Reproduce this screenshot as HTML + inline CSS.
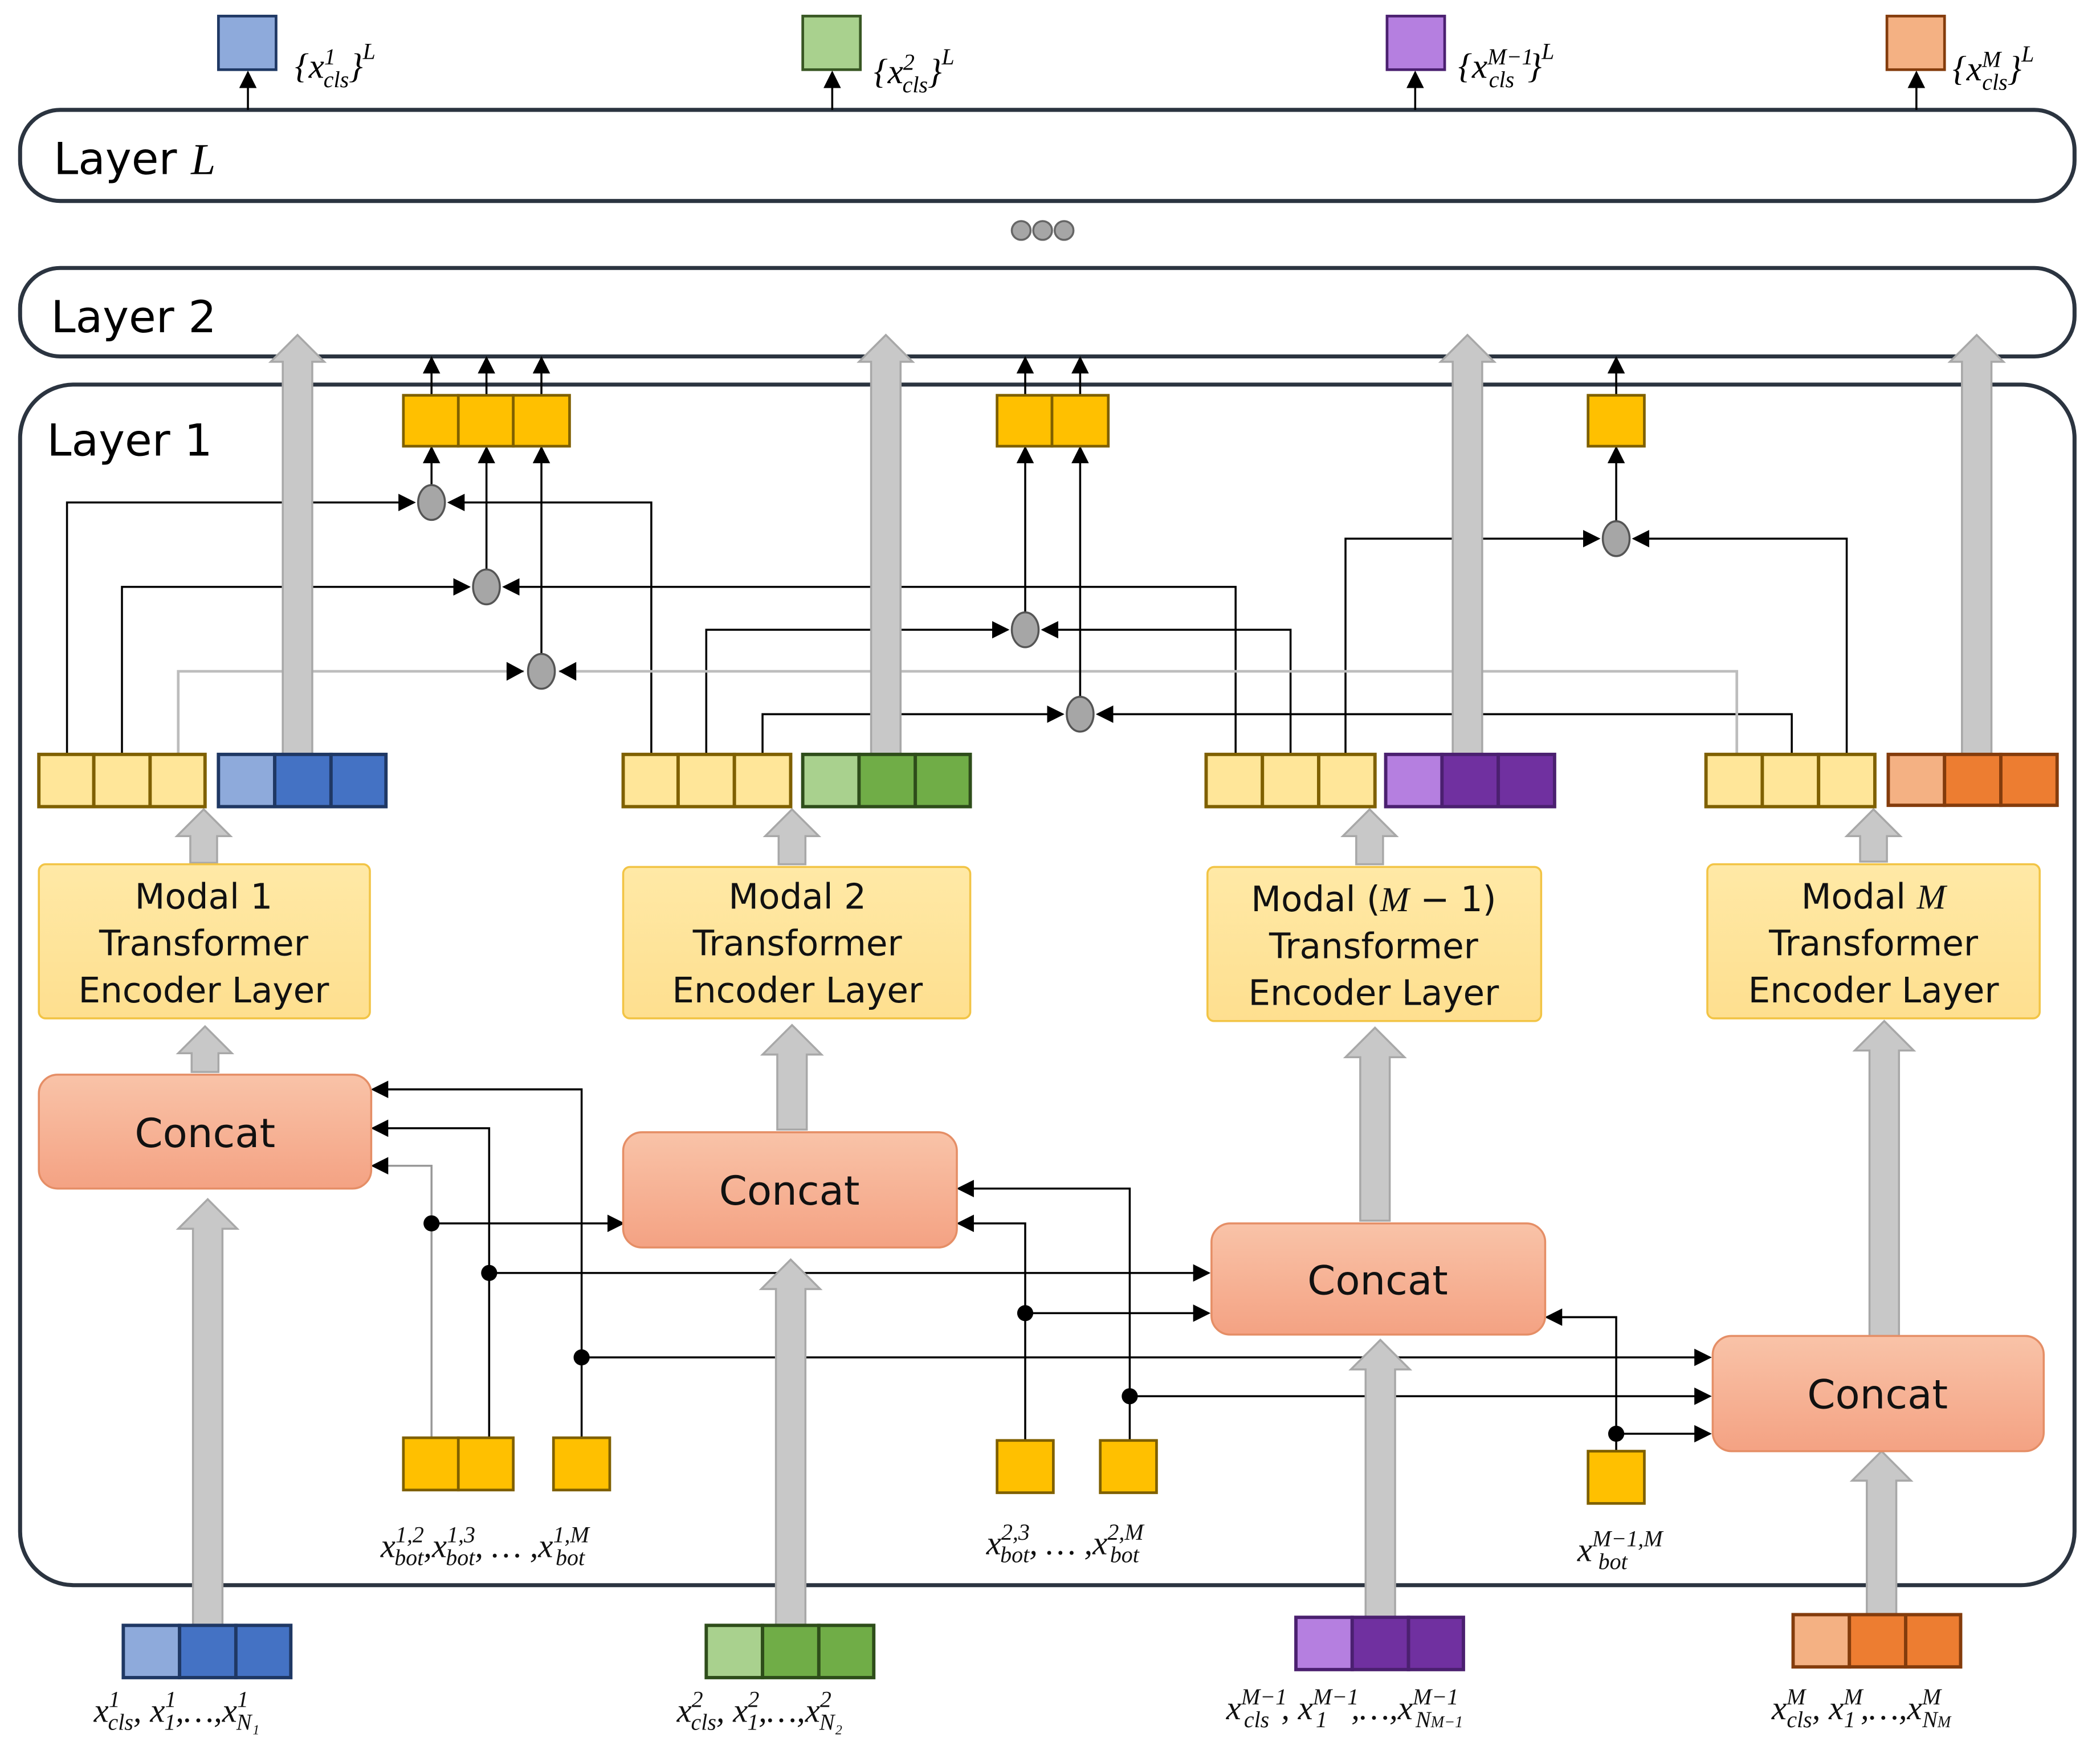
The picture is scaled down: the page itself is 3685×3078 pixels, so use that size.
<!DOCTYPE html>
<html><head><meta charset="utf-8"><style>html,body{margin:0;padding:0;background:#fff}svg{display:block}</style></head><body>
<svg width="3685" height="3078" viewBox="0 0 1567 1309" preserveAspectRatio="none" xmlns="http://www.w3.org/2000/svg">
<defs>
<marker id="b" viewBox="0 0 10 10" refX="9" refY="5" markerWidth="13" markerHeight="13" orient="auto" markerUnits="userSpaceOnUse"><path d="M0,0L10,5L0,10z" fill="#000"/></marker>
<linearGradient id="cg" x1="0" y1="0" x2="0" y2="1"><stop offset="0" stop-color="#f9c3a8"/><stop offset="1" stop-color="#f4a283"/></linearGradient>
<linearGradient id="eg" x1="0" y1="0" x2="0" y2="1"><stop offset="0" stop-color="#ffe9a6"/><stop offset="1" stop-color="#fedf8f"/></linearGradient>
</defs>
<g fill="none" stroke="#2b3440" stroke-width="3">
<rect x="15" y="82" width="1533" height="68" rx="30"/>
<rect x="15" y="200" width="1533" height="66" rx="30"/>
<rect x="15" y="287" width="1533" height="896" rx="40"/>
</g>
<g font-family="'DejaVu Sans','Liberation Sans',sans-serif" font-size="33" fill="#000">
<text x="40" y="130">Layer <tspan font-family="'Liberation Serif',serif" font-style="italic">L</tspan></text>
<text x="38" y="248">Layer 2</text>
<text x="35" y="340">Layer 1</text>
</g>
<g fill="#a6a6a6" stroke="#666" stroke-width="1.5"><circle cx="762" cy="172" r="7"/><circle cx="778" cy="172" r="7"/><circle cx="794" cy="172" r="7"/></g>

<g stroke-width="2">
<rect x="163" y="12" width="43" height="40" fill="#8eaadb" stroke="#1f3864"/>
<rect x="599" y="12" width="43" height="40" fill="#a9d18e" stroke="#385723"/>
<rect x="1035" y="12" width="43" height="40" fill="#b57fe0" stroke="#4b2070"/>
<rect x="1408" y="12" width="43" height="40" fill="#f4b183" stroke="#843c0c"/>
</g>
<g stroke="#000" stroke-width="1.5" marker-end="url(#b)">
<line x1="185" y1="82" x2="185" y2="54"/><line x1="621" y1="82" x2="621" y2="54"/><line x1="1056" y1="82" x2="1056" y2="54"/><line x1="1430" y1="82" x2="1430" y2="54"/>
</g>
<g font-family="'Liberation Serif',serif" font-style="italic" font-size="26">
<text x="220" y="58">{x<tspan font-size="17" dy="-10">1</tspan><tspan font-size="17" dx="-9" dy="17">cls</tspan><tspan dy="-7">}</tspan><tspan font-size="17" dy="-14">L</tspan></text>
<text x="652" y="62">{x<tspan font-size="17" dy="-10">2</tspan><tspan font-size="17" dx="-9" dy="17">cls</tspan><tspan dy="-7">}</tspan><tspan font-size="17" dy="-14">L</tspan></text>
<text x="1088" y="58">{x<tspan font-size="17" dy="-10">M−1</tspan><tspan font-size="17" dx="-33" dy="17">cls</tspan><tspan dx="10" dy="-7">}</tspan><tspan font-size="17" dy="-14">L</tspan></text>
<text x="1457" y="60">{x<tspan font-size="17" dy="-10">M</tspan><tspan font-size="17" dx="-14" dy="17">cls</tspan><tspan dy="-7">}</tspan><tspan font-size="17" dy="-14">L</tspan></text>
</g>

<g fill="none" stroke="#000" stroke-width="1.5">
<polyline points="50,563 50,375 309,375" marker-end="url(#b)"/>
<polyline points="486,563 486,375 335,375" marker-end="url(#b)"/>
<polyline points="91,563 91,438 350,438" marker-end="url(#b)"/>
<polyline points="922,563 922,438 376,438" marker-end="url(#b)"/>
<polyline points="527,563 527,470 752,470" marker-end="url(#b)"/>
<polyline points="963,563 963,470 778,470" marker-end="url(#b)"/>
<polyline points="569,563 569,533 793,533" marker-end="url(#b)"/>
<polyline points="1337,563 1337,533 819,533" marker-end="url(#b)"/>
<polyline points="1004,563 1004,402 1193,402" marker-end="url(#b)"/>
<polyline points="1378,563 1378,402 1219,402" marker-end="url(#b)"/>
</g>
<g fill="none" stroke="#bdbdbd" stroke-width="2">
<polyline points="133,563 133,501 391,501"/>
<polyline points="1296,563 1296,501 417,501"/>
</g>
<path d="M378,494L391,501L378,508z M430,494L417,501L430,508z" fill="#000"/>
<g stroke="#000" stroke-width="1.5" marker-end="url(#b)">
<line x1="322" y1="362" x2="322" y2="334"/><line x1="363" y1="425" x2="363" y2="334"/><line x1="404" y1="488" x2="404" y2="334"/>
<line x1="765" y1="457" x2="765" y2="334"/><line x1="806" y1="520" x2="806" y2="334"/><line x1="1206" y1="389" x2="1206" y2="334"/>
<line x1="322" y1="295" x2="322" y2="267"/><line x1="363" y1="295" x2="363" y2="267"/><line x1="404" y1="295" x2="404" y2="267"/>
<line x1="765" y1="295" x2="765" y2="267"/><line x1="806" y1="295" x2="806" y2="267"/><line x1="1206" y1="295" x2="1206" y2="267"/>
</g>
<g fill="#a6a6a6" stroke="#555" stroke-width="1.5">
<ellipse cx="322" cy="375" rx="10" ry="13"/><ellipse cx="363" cy="438" rx="10" ry="13"/><ellipse cx="404" cy="501" rx="10" ry="13"/>
<ellipse cx="765" cy="470" rx="10" ry="13"/><ellipse cx="806" cy="533" rx="10" ry="13"/><ellipse cx="1206" cy="402" rx="10" ry="13"/>
</g>
<g fill="#ffc000" stroke="#7f6000" stroke-width="2">
<rect x="301" y="295" width="41" height="38"/><rect x="342" y="295" width="41" height="38"/><rect x="383" y="295" width="42" height="38"/>
<rect x="744" y="295" width="41" height="38"/><rect x="785" y="295" width="42" height="38"/>
<rect x="1185" y="295" width="42" height="38"/>
</g>

<g fill="none" stroke-width="1.5">
<polyline points="322,1073 322,870 278,870" stroke="#999" marker-end="url(#b)"/>
<polyline points="365,1073 365,842 278,842" stroke="#000" marker-end="url(#b)"/>
<polyline points="434,1073 434,813 278,813" stroke="#000" marker-end="url(#b)"/>
<line x1="322" y1="913" x2="465" y2="913" stroke="#000" marker-end="url(#b)"/>
<line x1="365" y1="950" x2="902" y2="950" stroke="#000" marker-end="url(#b)"/>
<line x1="434" y1="1013" x2="1276" y2="1013" stroke="#000" marker-end="url(#b)"/>
<polyline points="765,1075 765,913 715,913" stroke="#000" marker-end="url(#b)"/>
<polyline points="843,1075 843,887 715,887" stroke="#000" marker-end="url(#b)"/>
<line x1="765" y1="980" x2="902" y2="980" stroke="#000" marker-end="url(#b)"/>
<line x1="843" y1="1042" x2="1276" y2="1042" stroke="#000" marker-end="url(#b)"/>
<polyline points="1206,1083 1206,983 1154,983" stroke="#000" marker-end="url(#b)"/>
<line x1="1206" y1="1070" x2="1276" y2="1070" stroke="#000" marker-end="url(#b)"/>
</g>
<g fill="#000"><circle cx="322" cy="913" r="6"/><circle cx="365" cy="950" r="6"/><circle cx="434" cy="1013" r="6"/><circle cx="765" cy="980" r="6"/><circle cx="843" cy="1042" r="6"/><circle cx="1206" cy="1070" r="6"/></g>
<g fill="#ffc000" stroke="#7f6000" stroke-width="2">
<rect x="301" y="1073" width="41" height="39"/><rect x="342" y="1073" width="41" height="39"/><rect x="413" y="1073" width="42" height="39"/>
<rect x="744" y="1075" width="42" height="39"/><rect x="821" y="1075" width="42" height="39"/><rect x="1185" y="1083" width="42" height="39"/>
</g>

<g fill="#c8c8c8" stroke="#a8a8a8" stroke-width="1.5">
<path d="M211,565V270H202L222,250L242,270H233V565z"/>
<path d="M650,565V270H641L661,250L681,270H672V565z"/>
<path d="M1084,565V270H1075L1095,250L1115,270H1106V565z"/>
<path d="M1464,565V270H1455L1475,250L1495,270H1486V565z"/>
<path d="M144,1213V917H133L155,895L177,917H166V1213z"/>
<path d="M579,1213V962H568L590,940L612,962H601V1213z"/>
<path d="M1019,1207V1022H1008L1030,1000L1052,1022H1041V1207z"/>
<path d="M1393,1205V1105H1382L1404,1083L1426,1105H1415V1205z"/>
<path d="M1395,997V784H1384L1406,762L1428,784H1417V997z"/>
<path d="M1015,911V789H1004L1026,767L1048,789H1037V911z"/>
<path d="M580,843V787H569L591,765L613,787H602V843z"/>
<path d="M143,800V786H133L153,766L173,786H163V800z"/>
<path d="M142,644V624H132L152,604L172,624H162V644z"/>
<path d="M581,645V624H571L591,604L611,624H601V645z"/>
<path d="M1012,645V624H1002L1022,604L1042,624H1032V645z"/>
<path d="M1388,643V624H1378L1398,604L1418,624H1408V643z"/>
</g>

<g stroke-width="2.5">
<g fill="#ffe699" stroke="#7f6000">
<rect x="29" y="563" width="41" height="39"/><rect x="70" y="563" width="42" height="39"/><rect x="112" y="563" width="41" height="39"/>
<rect x="465" y="563" width="41" height="39"/><rect x="506" y="563" width="42" height="39"/><rect x="548" y="563" width="42" height="39"/>
<rect x="900" y="563" width="42" height="39"/><rect x="942" y="563" width="42" height="39"/><rect x="984" y="563" width="42" height="39"/>
<rect x="1273" y="563" width="42" height="39"/><rect x="1315" y="563" width="42" height="39"/><rect x="1357" y="563" width="42" height="39"/>
</g>
<g stroke="#1f3864"><rect x="163" y="563" width="42" height="39" fill="#8eaadb"/><rect x="205" y="563" width="42" height="39" fill="#4472c4"/><rect x="247" y="563" width="41" height="39" fill="#4472c4"/>
<rect x="92" y="1213" width="42" height="39" fill="#8eaadb"/><rect x="134" y="1213" width="42" height="39" fill="#4472c4"/><rect x="176" y="1213" width="41" height="39" fill="#4472c4"/></g>
<g stroke="#2e4d1a"><rect x="599" y="563" width="42" height="39" fill="#a9d18e"/><rect x="641" y="563" width="42" height="39" fill="#70ad47"/><rect x="683" y="563" width="41" height="39" fill="#70ad47"/>
<rect x="527" y="1213" width="42" height="39" fill="#a9d18e"/><rect x="569" y="1213" width="42" height="39" fill="#70ad47"/><rect x="611" y="1213" width="41" height="39" fill="#70ad47"/></g>
<g stroke="#4b2070"><rect x="1034" y="563" width="42" height="39" fill="#b57fe0"/><rect x="1076" y="563" width="42" height="39" fill="#7030a0"/><rect x="1118" y="563" width="42" height="39" fill="#7030a0"/>
<rect x="967" y="1207" width="42" height="39" fill="#b57fe0"/><rect x="1009" y="1207" width="42" height="39" fill="#7030a0"/><rect x="1051" y="1207" width="41" height="39" fill="#7030a0"/></g>
<g stroke="#843c0c"><rect x="1409" y="563" width="42" height="38" fill="#f4b183"/><rect x="1451" y="563" width="42" height="38" fill="#ed7d31"/><rect x="1493" y="563" width="42" height="38" fill="#ed7d31"/>
<rect x="1338" y="1205" width="42" height="39" fill="#f4b183"/><rect x="1380" y="1205" width="42" height="39" fill="#ed7d31"/><rect x="1422" y="1205" width="41" height="39" fill="#ed7d31"/></g>
</g>

<g fill="url(#eg)" stroke="#f2c445" stroke-width="1.5">
<rect x="29" y="645" width="247" height="115" rx="5"/><rect x="465" y="647" width="259" height="113" rx="5"/>
<rect x="901" y="647" width="249" height="115" rx="5"/><rect x="1274" y="645" width="248" height="115" rx="5"/>
</g>
<g font-family="'DejaVu Sans','Liberation Sans',sans-serif" font-size="26" text-anchor="middle" fill="#111">
<text x="152" y="678">Modal 1</text><text x="152" y="713">Transformer</text><text x="152" y="748">Encoder Layer</text>
<text x="595" y="678">Modal 2</text><text x="595" y="713">Transformer</text><text x="595" y="748">Encoder Layer</text>
<text x="1025" y="680">Modal (<tspan font-family="'Liberation Serif',serif" font-style="italic">M</tspan> − 1)</text><text x="1025" y="715">Transformer</text><text x="1025" y="750">Encoder Layer</text>
<text x="1398" y="678">Modal <tspan font-family="'Liberation Serif',serif" font-style="italic">M</tspan></text><text x="1398" y="713">Transformer</text><text x="1398" y="748">Encoder Layer</text>
</g>

<g fill="url(#cg)" stroke="#e58e66" stroke-width="1.5">
<rect x="29" y="802" width="248" height="85" rx="14"/><rect x="465" y="845" width="249" height="86" rx="14"/>
<rect x="904" y="913" width="249" height="83" rx="14"/><rect x="1278" y="997" width="247" height="86" rx="14"/>
</g>
<g font-family="'DejaVu Sans','Liberation Sans',sans-serif" font-size="30" text-anchor="middle" fill="#111">
<text x="153" y="856">Concat</text><text x="589" y="899">Concat</text><text x="1028" y="966">Concat</text><text x="1401" y="1051">Concat</text>
</g>

<g font-family="'Liberation Serif',serif" font-style="italic" font-size="25" fill="#111">
<text x="284" y="1162">x<tspan font-size="17" dy="-11">1,2</tspan><tspan font-size="17" dx="-22" dy="17">bot</tspan><tspan dy="-6">,</tspan>x<tspan font-size="17" dy="-11">1,3</tspan><tspan font-size="17" dx="-22" dy="17">bot</tspan><tspan dy="-6">, … ,</tspan>x<tspan font-size="17" dy="-11">1,M</tspan><tspan font-size="17" dx="-25" dy="17">bot</tspan></text>
<text x="736" y="1160">x<tspan font-size="17" dy="-11">2,3</tspan><tspan font-size="17" dx="-22" dy="17">bot</tspan><tspan dy="-6">, … ,</tspan>x<tspan font-size="17" dy="-11">2,M</tspan><tspan font-size="17" dx="-25" dy="17">bot</tspan></text>
<text x="1177" y="1165">x<tspan font-size="17" dy="-11">M−1,M</tspan><tspan font-size="17" dx="-48" dy="17">bot</tspan></text>
<text x="70" y="1285">x<tspan font-size="17" dy="-11">1</tspan><tspan font-size="17" dx="-9" dy="17">cls</tspan><tspan dy="-6">, </tspan>x<tspan font-size="17" dy="-11">1</tspan><tspan font-size="17" dx="-9" dy="17">1</tspan><tspan dy="-6">,…,</tspan>x<tspan font-size="17" dy="-11">1</tspan><tspan font-size="17" dx="-9" dy="17">N₁</tspan></text>
<text x="505" y="1285">x<tspan font-size="17" dy="-11">2</tspan><tspan font-size="17" dx="-9" dy="17">cls</tspan><tspan dy="-6">, </tspan>x<tspan font-size="17" dy="-11">2</tspan><tspan font-size="17" dx="-9" dy="17">1</tspan><tspan dy="-6">,…,</tspan>x<tspan font-size="17" dy="-11">2</tspan><tspan font-size="17" dx="-9" dy="17">N₂</tspan></text>
<text x="915" y="1283">x<tspan font-size="17" dy="-11">M−1</tspan><tspan font-size="17" dx="-32" dy="17">cls</tspan><tspan dx="9" dy="-6">, </tspan>x<tspan font-size="17" dy="-11">M−1</tspan><tspan font-size="17" dx="-32" dy="17">1</tspan><tspan dx="18" dy="-6">,…,</tspan>x<tspan font-size="17" dy="-11">M−1</tspan><tspan font-size="17" dx="-32" dy="17">N<tspan font-size="12">M−1</tspan></tspan></text>
<text x="1322" y="1283">x<tspan font-size="17" dy="-11">M</tspan><tspan font-size="17" dx="-14" dy="17">cls</tspan><tspan dy="-6">, </tspan>x<tspan font-size="17" dy="-11">M</tspan><tspan font-size="17" dx="-14" dy="17">1</tspan><tspan dx="4" dy="-6">,…,</tspan>x<tspan font-size="17" dy="-11">M</tspan><tspan font-size="17" dx="-14" dy="17">N<tspan font-size="12">M</tspan></tspan></text>
</g>
</svg>
</body></html>
